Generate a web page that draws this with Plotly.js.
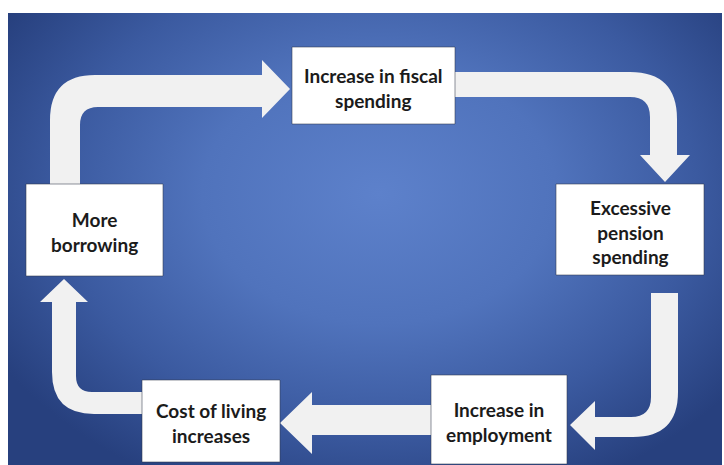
<!DOCTYPE html>
<html>
<head>
<meta charset="utf-8">
<script src="https://cdn.plot.ly/plotly-3.0.1.min.js"></script>
<style>
  html, body { margin: 0; padding: 0; background: #ffffff; }
  #bg {
    position: absolute; left: 8px; top: 13px; width: 714px; height: 452px;
    background: radial-gradient(ellipse 62% 72% at 52% 40%, #5d81cb 0%, #5073bc 40%, #3b5aa0 72%, #27407e 100%);
  }
  #chart { position: absolute; left: 0; top: 0; width: 724px; height: 465px; }
</style>
</head>
<body>
<div id="bg"></div>
<div id="chart"></div>
<script>
// the cycle, in order
const stepLabels = [
    'Increase in fiscal<br>spending',
    'Excessive<br>pension<br>spending',
    'Increase in<br>employment',
    'Cost of living<br>increases',
    'More<br>borrowing'
];

// box geometry in pixels: [x0, y0, x1, y1]
const boxes = [
    [292, 47, 455, 124],
    [556, 184, 704, 275],
    [431, 375, 567, 464],
    [142, 380, 280, 462],
    [26, 184, 163, 276]
];

// connector arrows (pixel paths), from box i to box i+1
const arrowPaths = [
    'M 455 72 L 630 72 Q 677 72 677 119 L 677 155 L 690 155 L 665 182 L 640 155 L 650 155 L 650 117 Q 650 97 630 97 L 455 97 Z',
    'M 651 293 L 678 293 L 678 392 Q 678 437 633 437 L 595 437 L 595 450 L 570 425 L 595 401 L 595 417 L 631 417 Q 651 417 651 397 Z',
    'M 431 405 L 312 405 L 312 392 L 280 423 L 312 454 L 312 435 L 431 435 Z',
    'M 142 392 L 92 392 Q 76 392 76 376 L 76 302 L 88 302 L 64 279 L 40 302 L 52 302 L 52 372 Q 52 414 94 414 L 142 414 Z',
    'M 50 184 L 50 120 Q 50 75 95 75 L 262 75 L 262 60 L 290 89 L 262 118 L 262 107 L 98 107 Q 80 107 80 125 L 80 184 Z'
];

const shapes = [];
arrowPaths.forEach(p => {
    shapes.push({ type: 'path', path: p, xref: 'x', yref: 'y', fillcolor: '#f1f1f1', line: { width: 0 } });
});
boxes.forEach(b => {
    shapes.push({
        type: 'rect', xref: 'x', yref: 'y',
        x0: b[0], y0: b[1], x1: b[2], y1: b[3],
        fillcolor: '#ffffff', line: { color: 'rgba(50,55,75,0.55)', width: 1 }
    });
});

const annotations = stepLabels.map((txt, i) => ({
    x: (boxes[i][0] + boxes[i][2]) / 2,
    y: (boxes[i][1] + boxes[i][3]) / 2 + 2,
    xref: 'x', yref: 'y',
    text: txt,
    showarrow: false,
    align: 'center',
    font: { family: 'Lato, "Open Sans", sans-serif', size: 19, weight: 700, color: '#1b1b1b' }
}));

Plotly.newPlot('chart', [], {
    width: 724, height: 465,
    margin: { l: 0, r: 0, t: 0, b: 0 },
    paper_bgcolor: 'rgba(0,0,0,0)',
    plot_bgcolor: 'rgba(0,0,0,0)',
    xaxis: { range: [0, 724], visible: false, fixedrange: true },
    yaxis: { range: [465, 0], visible: false, fixedrange: true },
    showlegend: false,
    shapes: shapes,
    annotations: annotations
}, { displayModeBar: false, staticPlot: true });
</script>
</body>
</html>
